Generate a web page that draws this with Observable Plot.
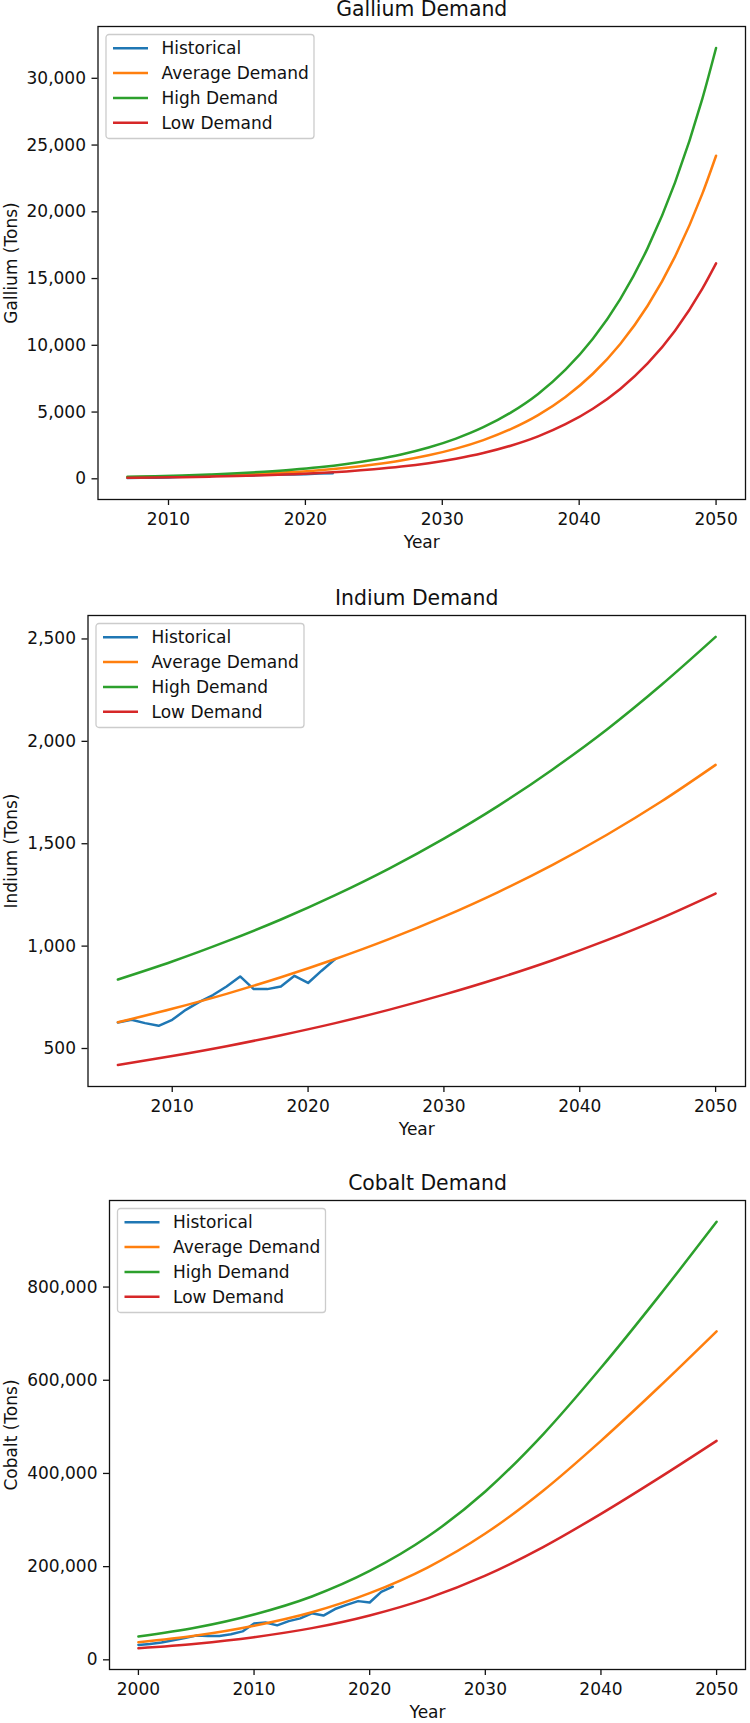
<!DOCTYPE html>
<html><head><meta charset="utf-8">
<script src="https://cdn.jsdelivr.net/npm/d3@7"></script>
<script src="https://cdn.jsdelivr.net/npm/@observablehq/plot@0.6"></script>
<style>
body{margin:0;background:#fff;}
#root{width:750px;}
svg{display:block;}
</style></head><body><div id="root"></div>
<script>
const seriesNames = ["Historical", "Average Demand", "High Demand", "Low Demand"];
const seriesColors = ["#1f77b4", "#ff7f0e", "#2ca02c", "#d62728"];

// ---- Gallium ----
const galliumHistYears = [2007,2008,2009,2010,2011,2012,2013,2014,2015,2016,2017,2018,2019,2020,2021,2022];
const galliumHistorical = [60,70,75,90,150,180,200,260,270,250,300,350,330,340,390,420];
const galliumProjYears = [2007,2009,2011,2013,2015,2017,2019,2021,2023,2025,2027,2029,2031,2033,2035,2037,2039,2041,2043,2045,2047,2049,2050];
const galliumAverage = [110,145,185,240,305,395,505,645,830,1070,1370,1760,2260,2900,3720,4770,6130,7870,10100,12960,16640,21360,24200];
const galliumHigh = [147,193,247,320,407,527,673,860,1105,1425,1825,2345,3015,3865,4960,6360,8175,10495,13465,17280,22185,28480,32270];
const galliumLow = [73,97,123,160,203,263,337,430,553,713,913,1173,1507,1933,2480,3180,4087,5247,6733,8640,11093,14240,16133];
const galliumXTicks = [2010,2020,2030,2040,2050];
const galliumYTicks = [0,5000,10000,15000,20000,25000,30000];

// ---- Indium ----
const indiumHistYears = [2006,2007,2008,2009,2010,2011,2012,2013,2014,2015,2016,2017,2018,2019,2020,2021,2022];
const indiumHistorical = [627,640,624,611,640,689,728,761,803,852,790,790,803,855,820,880,937];
const indiumProjYears = [2006,2010,2014,2018,2022,2026,2030,2034,2038,2042,2046,2050];
const indiumAverage = [628,694,767,848,937,1035,1144,1264,1397,1544,1706,1885];
const indiumHigh = [837,925,1023,1130,1249,1380,1525,1685,1863,2058,2275,2510];
const indiumLow = [419,463,511,565,624,690,763,843,931,1029,1137,1257];
const indiumXTicks = [2010,2020,2030,2040,2050];
const indiumYTicks = [500,1000,1500,2000,2500];

// ---- Cobalt ----
const cobaltHistYears = [2000,2001,2002,2003,2004,2005,2006,2007,2008,2009,2010,2011,2012,2013,2014,2015,2016,2017,2018,2019,2020,2021,2022];
const cobaltHistorical = [32000,34000,37000,42000,47000,52000,51000,51000,55000,61000,78000,80000,74000,83000,89000,100000,95000,109000,118000,126000,123000,146000,157000];
const cobaltProjYears = [2000,2005,2010,2015,2020,2025,2030,2035,2040,2045,2050];
const cobaltAverage = [37500,52000,73000,102000,143000,198000,271000,363000,470000,585000,705000];
const cobaltHigh = [50000,69300,97300,136000,190700,264000,361300,484000,626700,780000,940000];
const cobaltLow = [25000,34700,48700,68000,95300,132000,180700,242000,313300,390000,470000];
const cobaltXTicks = [2000,2010,2020,2030,2040,2050];
const cobaltYTicks = [0,200000,400000,600000,800000];

const FONT = "DejaVu Sans, Liberation Sans, sans-serif";

function panel(cfg) {
  const rows = [];
  cfg.histYears.forEach((yr, i) => rows.push({series: seriesNames[0], year: yr, value: cfg.hist[i]}));
  [cfg.avg, cfg.high, cfg.low].forEach((arr, k) => {
    cfg.projYears.forEach((yr, i) => rows.push({series: seriesNames[k + 1], year: yr, value: arr[i]}));
  });
  const yExt = d3.extent(rows, d => d.value);
  const xExt = d3.extent(rows, d => d.year);
  const yPad = (yExt[1] - yExt[0]) * 0.05;
  const xPad = (xExt[1] - xExt[0]) * 0.05;
  const lineMarks = seriesNames.map((name, k) =>
    Plot.line(rows.filter(d => d.series === name), {
      x: "year", y: "value", stroke: seriesColors[k], strokeWidth: 2.5,
      curve: k === 0 ? "linear" : "monotone-x"
    })
  );
  const svg = Plot.plot({
    width: 750,
    height: cfg.height,
    marginTop: cfg.mt, marginBottom: cfg.mb, marginLeft: cfg.ml, marginRight: cfg.mr,
    style: {fontFamily: FONT, fontSize: "17px", color: "#111", background: "#fff", overflow: "visible"},
    x: {domain: [xExt[0] - xPad, xExt[1] + xPad]},
    y: {domain: [yExt[0] - yPad, yExt[1] + yPad]},
    marks: [
      ...lineMarks,
      Plot.frame({stroke: "#111", strokeWidth: 1.3}),
      Plot.axisX({ticks: cfg.xTicks, tickFormat: d => String(d), tickSize: 6, tickPadding: 7, strokeWidth: 1.3, fontSize: 17, label: null}),
      Plot.axisY({ticks: cfg.yTicks, tickFormat: d3.format(","), tickSize: 6, tickPadding: 6, strokeWidth: 1.3, fontSize: 17, label: null}),
      Plot.text([cfg.title], {frameAnchor: "top", dy: -17, fontSize: 20.4, lineAnchor: "middle", textAnchor: "middle", fill: "#111"}),
      Plot.text([cfg.ylabel], {frameAnchor: "left", dx: -(cfg.ml - 11), rotate: -90, textAnchor: "middle", lineAnchor: "middle", fontSize: 17, fill: "#111"}),
      Plot.text(["Year"], {frameAnchor: "bottom", dy: 43, lineAnchor: "middle", textAnchor: "middle", fontSize: 17, fill: "#111"})
    ]
  });
  // legend (upper left)
  const g = d3.select(svg).append("g")
    .attr("transform", `translate(${cfg.ml + 8.5},${cfg.mt + 8.5})`)
    .attr("font-family", FONT).attr("font-size", 17).attr("text-anchor", "start");
  g.append("rect").attr("width", 208).attr("height", 104).attr("rx", 3)
    .attr("fill", "#fff").attr("fill-opacity", 0.8).attr("stroke", "#cccccc").attr("stroke-width", 1.3);
  seriesNames.forEach((name, i) => {
    const cy = 13.8 + i * 24.8;
    g.append("line").attr("x1", 7).attr("x2", 42).attr("y1", cy).attr("y2", cy)
      .attr("stroke", seriesColors[i]).attr("stroke-width", 2.5);
    g.append("text").attr("x", 55.5).attr("y", cy).attr("dy", "0.35em")
      .attr("text-anchor", "start").attr("fill", "#111").text(name);
  });
  return svg;
}

const root = document.getElementById("root");
root.appendChild(panel({
  title: "Gallium Demand", ylabel: "Gallium (Tons)",
  histYears: galliumHistYears, hist: galliumHistorical,
  projYears: galliumProjYears, avg: galliumAverage, high: galliumHigh, low: galliumLow,
  xTicks: galliumXTicks, yTicks: galliumYTicks,
  height: 560, mt: 26, mb: 61, ml: 97.5, mr: 5
}));
root.appendChild(panel({
  title: "Indium Demand", ylabel: "Indium (Tons)",
  histYears: indiumHistYears, hist: indiumHistorical,
  projYears: indiumProjYears, avg: indiumAverage, high: indiumHigh, low: indiumLow,
  xTicks: indiumXTicks, yTicks: indiumYTicks,
  height: 570, mt: 55, mb: 44, ml: 87.5, mr: 5
}));
root.appendChild(panel({
  title: "Cobalt Demand", ylabel: "Cobalt (Tons)",
  histYears: cobaltHistYears, hist: cobaltHistorical,
  projYears: cobaltProjYears, avg: cobaltAverage, high: cobaltHigh, low: cobaltLow,
  xTicks: cobaltXTicks, yTicks: cobaltYTicks,
  height: 593, mt: 70, mb: 54, ml: 109, mr: 5
}));
</script>
</body></html>
